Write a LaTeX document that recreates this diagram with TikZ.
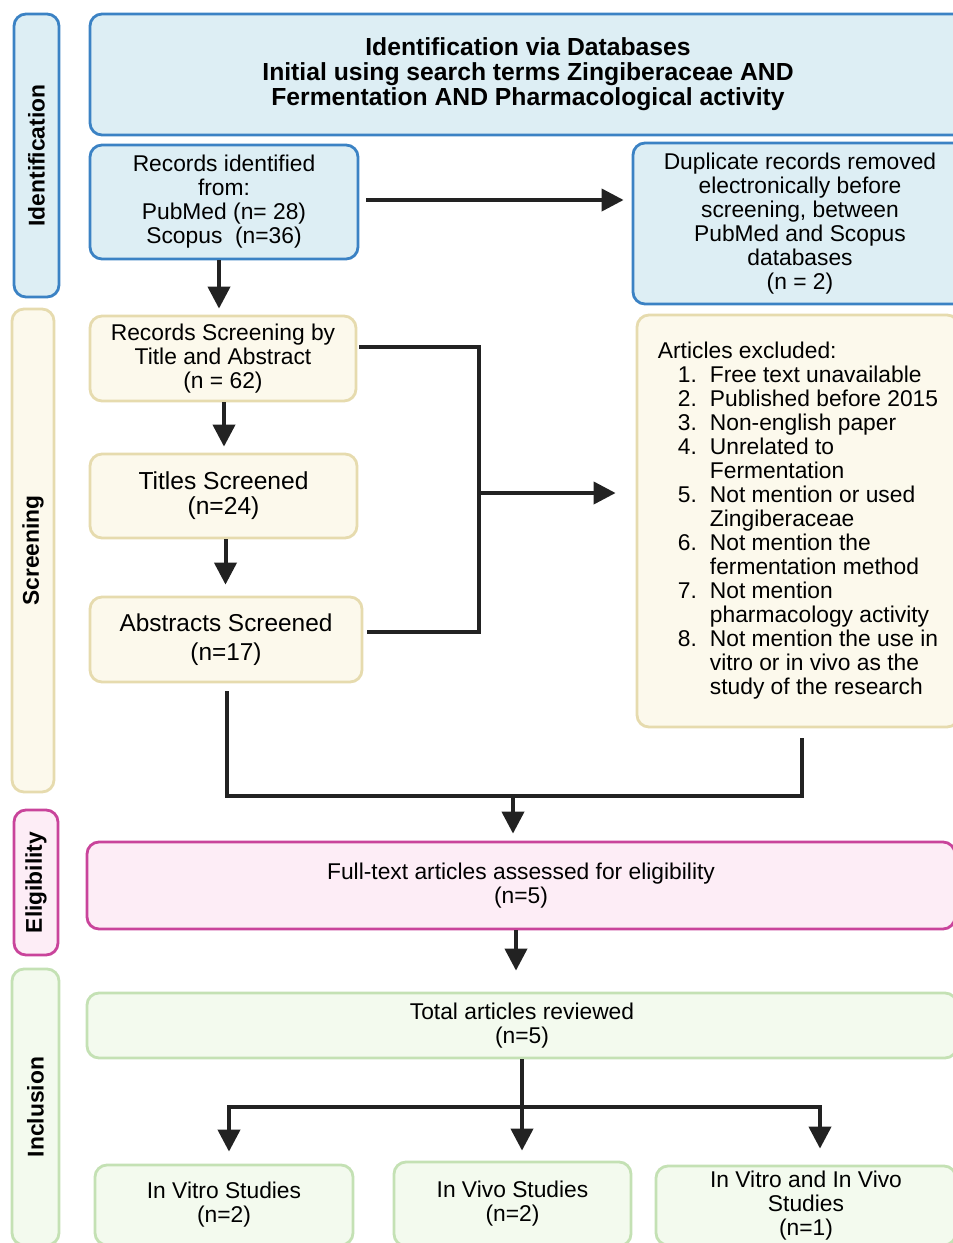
\documentclass[tikz,border=0pt]{standalone}
\usepackage{fontspec}
\setmainfont{Liberation Sans}
\usepackage{xcolor}
\usetikzlibrary{arrows.meta}

\definecolor{bluedge}{HTML}{3B82C4}
\definecolor{bluefill}{HTML}{DDEEF4}
\definecolor{beigedge}{HTML}{E6DBAE}
\definecolor{beigefill}{HTML}{FCF9EC}
\definecolor{pinkedge}{HTML}{C9449B}
\definecolor{pinkfill}{HTML}{FDEDF6}
\definecolor{greenedge}{HTML}{C4E1B4}
\definecolor{greenfill}{HTML}{F3FAEE}
\definecolor{arrowcol}{HTML}{222222}

\begin{document}
\begin{tikzpicture}[x=0.5pt,y=-0.5pt,font=\fontsize{11.4}{12}\selectfont]
    \tikzstyle{box}=[rectangle,rounded corners=6pt,line width=1.4pt,align=center,inner sep=1pt]
    \tikzstyle{B}=[box,draw=bluedge,fill=bluefill]
    \tikzstyle{Y}=[box,draw=beigedge,fill=beigefill]
    \tikzstyle{P}=[box,draw=pinkedge,fill=pinkfill]
    \tikzstyle{G}=[box,draw=greenedge,fill=greenfill]
    \tikzstyle{S}=[rotate=90,font=\fontsize{11.4}{12}\selectfont\bfseries]
    \tikzstyle{W}=[line width=2pt,draw=arrowcol]
    \tikzstyle{A}=[W,-{Triangle[length=11pt,width=11pt]}]

   \useasboundingbox (0,0) rectangle (953,1243);
   \clip (0,0) rectangle (953,1243);

   % side labels
   \node [B,S,minimum width=141.5pt,minimum height=22.5pt] (idlab) at (36.5,155.5) {Identification};
   \node [Y,S,minimum width=241.5pt,minimum height=21pt] (scrlab) at (33,550.5) {Screening};
   \node [P,S,minimum width=72.5pt,minimum height=22pt] (eliglab) at (36,882.5) {Eligibility};
   \node [G,S,minimum width=138pt,minimum height=23.5pt] (inclab) at (35.5,1107) {Inclusion};

   % identification
   \node [B,minimum width=438pt,minimum height=60.5pt,font=\fontsize{12.35}{12.5}\selectfont\bfseries] (title) at (528,74.5)
        {Identification via Databases\\ Initial using search terms Zingiberaceae AND\\ Fermentation AND Pharmacological activity};
   \node [B,minimum width=134pt,minimum height=57pt] (recs) at (224,202)
        {Records identified\\ from:\\ PubMed (n= 28)\\ Scopus\ \ (n=36)};
   \node [B,minimum width=167pt,minimum height=80.5pt] (dup) at (800,223.5)
        {Duplicate records removed\\ electronically before\\ screening, between\\ PubMed and Scopus\\ databases\\ (n = 2)};

   % screening
   \node [Y,minimum width=133pt,minimum height=42.5pt] (screen) at (223,358.5)
        {Records Screening by\\ Title and Abstract\\ (n = 62)};
   \node [Y,minimum width=133.5pt,minimum height=42pt,font=\fontsize{12.3}{12.5}\selectfont] (titles) at (223.5,496)
        {Titles Screened\\ (n=24)};
   \node [Y,minimum width=136pt,minimum height=42.5pt,font=\fontsize{12.2}{14.5}\selectfont] (abstr) at (226,639.5)
        {Abstracts Screened\\ (n=17)};
   \node [Y,minimum width=161pt,minimum height=206pt,align=left] (excl) at (798,521)
        {Articles excluded:\\
         \hspace*{10pt}\makebox[16pt][l]{1.}Free text unavailable\\
         \hspace*{10pt}\makebox[16pt][l]{2.}Published before 2015\\
         \hspace*{10pt}\makebox[16pt][l]{3.}Non-english paper\\
         \hspace*{10pt}\makebox[16pt][l]{4.}Unrelated to\\
         \hspace*{26pt}Fermentation\\
         \hspace*{10pt}\makebox[16pt][l]{5.}Not mention or used\\
         \hspace*{26pt}Zingiberaceae\\
         \hspace*{10pt}\makebox[16pt][l]{6.}Not mention the\\
         \hspace*{26pt}fermentation method\\
         \hspace*{10pt}\makebox[16pt][l]{7.}Not mention\\
         \hspace*{26pt}pharmacology activity\\
         \hspace*{10pt}\makebox[16pt][l]{8.}Not mention the use in\\
         \hspace*{26pt}vitro or in vivo as the\\
         \hspace*{26pt}study of the research};

   % eligibility and inclusion
   \node [P,minimum width=434pt,minimum height=43.5pt] (full) at (521,885.5)
        {Full-text articles assessed for eligibility\\ (n=5)};
   \node [G,minimum width=435pt,minimum height=32.5pt] (total) at (522,1025.5)
        {Total articles reviewed\\ (n=5)};
   \node [G,minimum width=129pt,minimum height=40pt] (vitro) at (224,1205)
        {In Vitro Studies\\ (n=2)};
   \node [G,minimum width=118.5pt,minimum height=42pt] (vivo) at (512.5,1204)
        {In Vivo Studies\\ (n=2)};
   \node [G,minimum width=150pt,minimum height=39.5pt] (both) at (806,1205.5)
        {In Vitro and In Vivo\\ Studies\\ (n=1)};

   \coordinate (jn) at (479,493);
   \coordinate (mg) at (513,796);
   \coordinate (sp) at (522,1107);

   % connectors
   \draw [A,shorten <=3.5pt,shorten >=4pt] ([yshift=1pt]recs.east) -- ([yshift=1pt]recs.east -| dup.west);
   \draw [A,shorten >=3pt] ([xshift=-2.5pt]recs.south) -- ([xshift=-2.5pt]recs.south |- screen.north);
   \draw [A,shorten >=3pt] ([xshift=0.5pt]screen.south) -- ([xshift=0.5pt]screen.south |- titles.north);
   \draw [A,shorten >=5.5pt] ([xshift=1pt]titles.south) -- ([xshift=1pt]titles.south |- abstr.north);
   \draw [W] ([xshift=1pt,yshift=5.75pt]screen.east) -| (jn) |- ([xshift=2pt,yshift=3.75pt]abstr.east);
   \draw [A,shorten >=10pt] (jn) -- (jn -| excl.west);
   \draw [W] ([xshift=0.5pt,yshift=-4pt]abstr.south) |- (mg) -| ([xshift=2pt,yshift=-5pt]excl.south);
   \draw [A,shorten >=3.5pt] (mg) -- (mg |- full.north);
   \draw [A,shorten >=10.5pt] ([xshift=-2.5pt]full.south) -- ([xshift=-2.5pt]full.south |- total.north);
   \draw [A,shorten >=5pt] (total.south) -- (total.south |- vivo.north);
   \draw [A,shorten >=6pt] (sp) -| ([xshift=2.5pt]vitro.north);
   \draw [A,shorten >=8pt] (sp) -| ([xshift=7pt]both.north);
\end{tikzpicture}
\end{document}
